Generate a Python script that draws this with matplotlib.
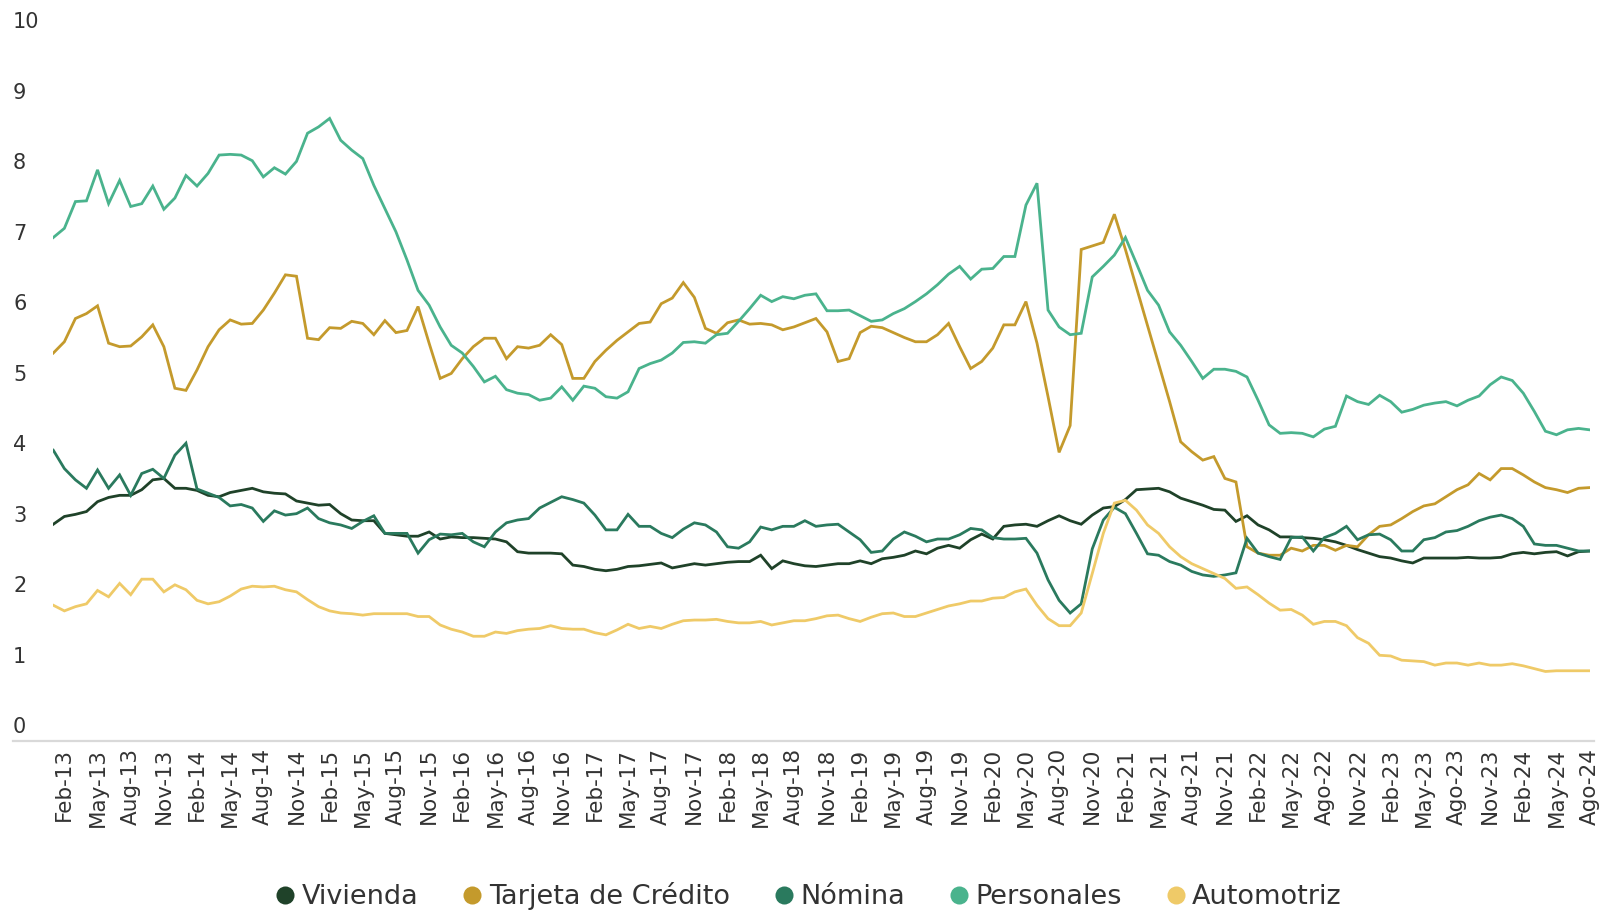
import matplotlib
matplotlib.use("Agg")
import matplotlib.pyplot as plt
import matplotlib.transforms as mtransforms
from matplotlib.lines import Line2D

# monthly series, Jan-13 .. Ago-24 (140 points)
vivienda = [
    2.85, 2.96, 2.99, 3.03, 3.17, 3.23, 3.26, 3.26, 3.34, 3.48, 3.50, 3.36, 3.36, 3.33, 3.26, 3.24, 3.30, 3.33, 3.36, 3.31,
    3.29, 3.28, 3.18, 3.15, 3.12, 3.13, 3.00, 2.91, 2.90, 2.90, 2.72, 2.70, 2.68, 2.68, 2.74, 2.64, 2.67, 2.66, 2.66, 2.65,
    2.64, 2.60, 2.46, 2.44, 2.44, 2.44, 2.43, 2.27, 2.25, 2.21, 2.19, 2.21, 2.25, 2.26, 2.28, 2.30, 2.23, 2.26, 2.29, 2.27,
    2.29, 2.31, 2.32, 2.32, 2.41, 2.22, 2.33, 2.29, 2.26, 2.25, 2.27, 2.29, 2.29, 2.33, 2.29, 2.36, 2.38, 2.41, 2.47, 2.43,
    2.51, 2.55, 2.51, 2.63, 2.71, 2.64, 2.82, 2.84, 2.85, 2.82, 2.90, 2.97, 2.90, 2.85, 2.98, 3.08, 3.10, 3.20, 3.34, 3.35,
    3.36, 3.31, 3.22, 3.17, 3.12, 3.06, 3.05, 2.89, 2.97, 2.84, 2.77, 2.67, 2.67, 2.66, 2.65, 2.63, 2.60, 2.55, 2.49, 2.44,
    2.39, 2.37, 2.33, 2.30, 2.37, 2.37, 2.37, 2.37, 2.38, 2.37, 2.37, 2.38, 2.43, 2.45, 2.43, 2.45, 2.46, 2.40, 2.46, 2.47,
]
tarjeta = [
    5.28, 5.44, 5.77, 5.84, 5.95, 5.42, 5.37, 5.38, 5.51, 5.68, 5.37, 4.78, 4.75, 5.04, 5.37, 5.61, 5.75, 5.69, 5.70, 5.89,
    6.13, 6.39, 6.37, 5.49, 5.47, 5.64, 5.63, 5.73, 5.70, 5.54, 5.74, 5.57, 5.60, 5.94, 5.42, 4.92, 4.99, 5.20, 5.37, 5.49,
    5.49, 5.20, 5.37, 5.35, 5.39, 5.54, 5.40, 4.92, 4.92, 5.16, 5.32, 5.46, 5.58, 5.70, 5.72, 5.98, 6.06, 6.28, 6.07, 5.63,
    5.56, 5.71, 5.75, 5.69, 5.70, 5.68, 5.61, 5.65, 5.71, 5.77, 5.58, 5.16, 5.20, 5.57, 5.66, 5.64, 5.57, 5.50, 5.44, 5.44,
    5.54, 5.70, 5.37, 5.06, 5.16, 5.35, 5.68, 5.68, 6.01, 5.42, 4.66, 3.87, 4.25, 6.75, 6.80, 6.85, 7.25, 6.75, 6.21, 5.67,
    5.13, 4.59, 4.02, 3.88, 3.76, 3.81, 3.50, 3.45, 2.53, 2.44, 2.41, 2.41, 2.51, 2.47, 2.55, 2.55, 2.48, 2.55, 2.53, 2.70,
    2.82, 2.84, 2.93, 3.03, 3.11, 3.14, 3.24, 3.34, 3.41, 3.57, 3.48, 3.64, 3.64, 3.55, 3.45, 3.37, 3.34, 3.30, 3.36, 3.37,
]
nomina = [
    3.90, 3.64, 3.48, 3.36, 3.62, 3.36, 3.55, 3.26, 3.57, 3.63, 3.50, 3.83, 4.00, 3.35, 3.29, 3.23, 3.11, 3.13, 3.08, 2.89,
    3.04, 2.98, 3.00, 3.08, 2.93, 2.87, 2.84, 2.79, 2.89, 2.97, 2.72, 2.72, 2.72, 2.44, 2.63, 2.71, 2.70, 2.72, 2.60, 2.53,
    2.74, 2.87, 2.91, 2.93, 3.08, 3.16, 3.24, 3.20, 3.15, 2.98, 2.77, 2.77, 2.99, 2.82, 2.82, 2.72, 2.66, 2.78, 2.87, 2.84,
    2.74, 2.53, 2.51, 2.60, 2.81, 2.77, 2.82, 2.82, 2.90, 2.82, 2.84, 2.85, 2.74, 2.63, 2.45, 2.47, 2.64, 2.74, 2.68, 2.60,
    2.64, 2.64, 2.70, 2.79, 2.77, 2.66, 2.64, 2.64, 2.65, 2.44, 2.06, 1.77, 1.59, 1.72, 2.50, 2.91, 3.09, 3.00, 2.72, 2.43,
    2.41, 2.32, 2.27, 2.18, 2.13, 2.11, 2.13, 2.16, 2.65, 2.44, 2.39, 2.35, 2.66, 2.67, 2.47, 2.66, 2.72, 2.82, 2.63, 2.70,
    2.71, 2.63, 2.47, 2.47, 2.63, 2.66, 2.74, 2.76, 2.82, 2.90, 2.95, 2.98, 2.93, 2.82, 2.57, 2.55, 2.55, 2.51, 2.47, 2.47,
]
personales = [
    6.92, 7.05, 7.43, 7.44, 7.88, 7.40, 7.73, 7.36, 7.40, 7.65, 7.32, 7.48, 7.80, 7.65, 7.83, 8.09, 8.10, 8.09, 8.01, 7.78,
    7.91, 7.82, 8.00, 8.40, 8.49, 8.61, 8.30, 8.16, 8.04, 7.66, 7.33, 7.00, 6.60, 6.17, 5.96, 5.65, 5.39, 5.28, 5.09, 4.87,
    4.95, 4.76, 4.71, 4.69, 4.61, 4.64, 4.80, 4.61, 4.81, 4.78, 4.66, 4.64, 4.73, 5.06, 5.13, 5.18, 5.28, 5.43, 5.44, 5.42,
    5.54, 5.56, 5.73, 5.91, 6.10, 6.01, 6.08, 6.05, 6.10, 6.12, 5.88, 5.88, 5.89, 5.81, 5.73, 5.75, 5.84, 5.91, 6.01, 6.12,
    6.25, 6.40, 6.51, 6.33, 6.47, 6.48, 6.65, 6.65, 7.38, 7.69, 5.89, 5.65, 5.54, 5.56, 6.36, 6.51, 6.67, 6.92, 6.55, 6.17,
    5.96, 5.58, 5.39, 5.16, 4.92, 5.05, 5.05, 5.02, 4.94, 4.61, 4.26, 4.14, 4.15, 4.14, 4.09, 4.20, 4.24, 4.67, 4.59, 4.55,
    4.68, 4.59, 4.44, 4.48, 4.54, 4.57, 4.59, 4.53, 4.61, 4.67, 4.83, 4.94, 4.89, 4.71, 4.45, 4.17, 4.12, 4.19, 4.21, 4.19,
]
automotriz = [
    1.70, 1.62, 1.68, 1.72, 1.91, 1.82, 2.01, 1.85, 2.07, 2.07, 1.89, 1.99, 1.92, 1.77, 1.72, 1.75, 1.83, 1.93, 1.97, 1.96,
    1.97, 1.92, 1.89, 1.78, 1.68, 1.62, 1.59, 1.58, 1.56, 1.58, 1.58, 1.58, 1.58, 1.54, 1.54, 1.42, 1.36, 1.32, 1.26, 1.26,
    1.32, 1.30, 1.34, 1.36, 1.37, 1.41, 1.37, 1.36, 1.36, 1.31, 1.28, 1.35, 1.43, 1.37, 1.40, 1.37, 1.43, 1.48, 1.49, 1.49,
    1.50, 1.47, 1.45, 1.45, 1.47, 1.42, 1.45, 1.48, 1.48, 1.51, 1.55, 1.56, 1.51, 1.47, 1.53, 1.58, 1.59, 1.54, 1.54, 1.59,
    1.64, 1.69, 1.72, 1.76, 1.76, 1.80, 1.81, 1.89, 1.93, 1.70, 1.51, 1.41, 1.41, 1.59, 2.15, 2.72, 3.15, 3.19, 3.05, 2.84,
    2.72, 2.53, 2.39, 2.29, 2.22, 2.15, 2.08, 1.94, 1.96, 1.85, 1.73, 1.63, 1.64, 1.56, 1.43, 1.47, 1.47, 1.41, 1.24, 1.16,
    0.99, 0.98, 0.92, 0.91, 0.90, 0.85, 0.88, 0.88, 0.85, 0.88, 0.85, 0.85, 0.87, 0.84, 0.80, 0.76, 0.77, 0.77, 0.77, 0.77,
]

tick_labels = [
    "Feb-13", "May-13", "Aug-13", "Nov-13", "Feb-14", "May-14", "Aug-14", "Nov-14",
    "Feb-15", "May-15", "Aug-15", "Nov-15", "Feb-16", "May-16", "Aug-16", "Nov-16",
    "Feb-17", "May-17", "Aug-17", "Nov-17", "Feb-18", "May-18", "Aug-18", "Nov-18",
    "Feb-19", "May-19", "Aug-19", "Nov-19", "Feb-20", "May-20", "Aug-20", "Nov-20",
    "Feb-21", "May-21", "Aug-21", "Nov-21", "Feb-22", "May-22", "Ago-22", "Nov-22",
    "Feb-23", "May-23", "Ago-23", "Nov-23", "Feb-24", "May-24", "Ago-24",
]

series = [
    ("Vivienda", vivienda, "#1f4229"),
    ("Tarjeta de Crédito", tarjeta, "#c49a2c"),
    ("Nómina", nomina, "#2a7a5e"),
    ("Personales", personales, "#4ab38d"),
    ("Automotriz", automotriz, "#efca68"),
]

plt.rcParams["font.family"] = ["DejaVu Sans"]
text_color = "#333333"

fig = plt.figure(figsize=(16.06, 9.11), dpi=100)
ax = fig.add_axes([0.0332, 0.1866, 0.9566, 0.7909])

x = list(range(len(vivienda)))
for name, vals, col in series:
    ax.plot(x, vals, color=col, lw=2.0, solid_joinstyle="miter")

ax.set_xlim(0, len(vivienda) - 1)
ax.set_ylim(-0.227, 10.0)

ax.set_yticks(range(0, 11))
ax.set_yticklabels([str(v) for v in range(0, 11)])
ax.tick_params(axis="y", length=0, pad=29, labelsize=15, labelcolor=text_color)
for lab in ax.get_yticklabels():
    lab.set_horizontalalignment("left")

ax.set_xticks(range(1, len(vivienda), 3))
ax.set_xticklabels(tick_labels, rotation=90)
ax.tick_params(axis="x", length=0, pad=5, labelsize=15.5, labelcolor=text_color)

for s in ax.spines.values():
    s.set_visible(False)

# baseline running under the y labels
trans = mtransforms.blended_transform_factory(fig.transFigure, ax.transData)
fig.add_artist(Line2D([0.0081, 0.9925], [-0.227, -0.227], transform=trans,
                      color="#d9d9d9", lw=1.6))

handles = [Line2D([], [], ls="none", marker="o", markersize=13, color=col,
                  markeredgewidth=0) for _, _, col in series]
fig.legend(handles, [n for n, _, _ in series], loc="center", bbox_to_anchor=(0.504, 0.016),
           ncol=5, frameon=False, fontsize=19.5, handlelength=0.6, handletextpad=0.3,
           columnspacing=1.7, labelcolor=text_color)

fig.savefig("out.png", dpi=100)
